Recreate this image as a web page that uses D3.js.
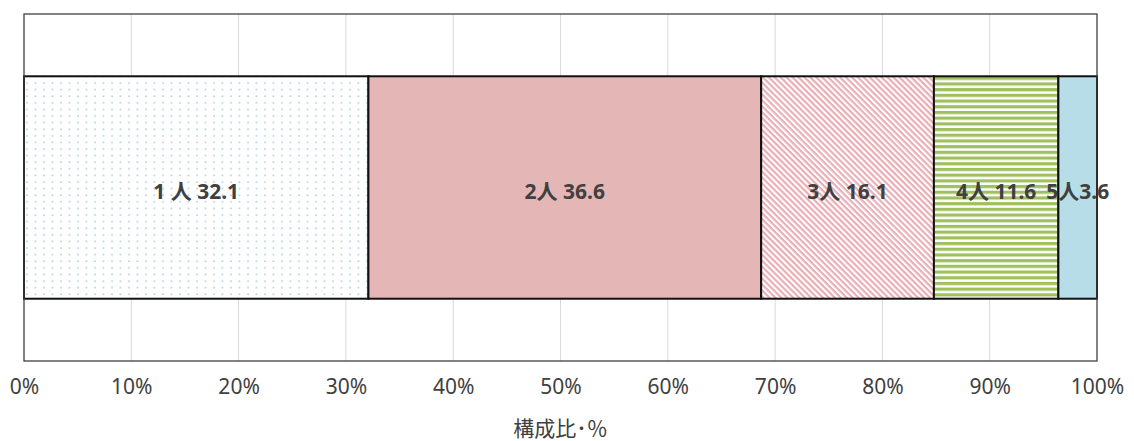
<!DOCTYPE html>
<html>
<head>
<meta charset="utf-8">
<script src="https://cdn.jsdelivr.net/npm/d3@7"></script>
<style>
  body { margin: 0; background: #fff; }
  text { font-family: "Noto Sans", "Noto Sans CJK JP", sans-serif; }
</style>
</head>
<body>
<div id="chart"></div>
<script>
// data
const categories = ["1 人", "2人", "3人", "4人", "5人"];
const values = [32.1, 36.6, 16.1, 11.6, 3.6];
const labelGaps = [" ", " ", " ", " ", ""];
const tickValues = [0, 10, 20, 30, 40, 50, 60, 70, 80, 90, 100];
const axisTitle = "構成比･％";

const W = 1134, H = 441;
const margin = {top: 14, right: 37, bottom: 80, left: 24};
const width = W - margin.left - margin.right;
const height = H - margin.top - margin.bottom;

const svg = d3.select("#chart").append("svg")
    .attr("width", W)
    .attr("height", H);

// patterns
const defs = svg.append("defs");
const dots = defs.append("pattern").attr("id", "p0")
    .attr("patternUnits", "userSpaceOnUse").attr("width", 8.5).attr("height", 6.6);
dots.append("rect").attr("width", 8.5).attr("height", 6.6).attr("fill", "#fff");
dots.append("circle").attr("cx", 3).attr("cy", 3).attr("r", 0.9).attr("fill", "#a8d0e0");

defs.append("pattern").attr("id", "p1")
    .attr("patternUnits", "userSpaceOnUse").attr("width", 4).attr("height", 4)
  .append("rect").attr("width", 4).attr("height", 4).attr("fill", "#e4b6b5");

const hatch = defs.append("pattern").attr("id", "p2")
    .attr("patternUnits", "userSpaceOnUse").attr("width", 4.2).attr("height", 4.2)
    .attr("patternTransform", "rotate(45)");
hatch.append("rect").attr("width", 4.2).attr("height", 4.2).attr("fill", "#fff");
hatch.append("rect").attr("width", 4.2).attr("height", 2.2).attr("fill", "#eaaeb6");

const stripes = defs.append("pattern").attr("id", "p3")
    .attr("patternUnits", "userSpaceOnUse").attr("width", 6).attr("height", 5.7);
stripes.append("rect").attr("width", 6).attr("height", 5.7).attr("fill", "#fff");
stripes.append("rect").attr("y", 0).attr("width", 6).attr("height", 3.2).attr("fill", "#9fc05e");

defs.append("pattern").attr("id", "p4")
    .attr("patternUnits", "userSpaceOnUse").attr("width", 4).attr("height", 4)
  .append("rect").attr("width", 4).attr("height", 4).attr("fill", "#b7dde8");

const g = svg.append("g")
    .attr("transform", "translate(" + margin.left + "," + margin.top + ")");

const x = d3.scaleLinear().domain([0, 100]).range([0, width]);
const y = d3.scaleBand().domain(["all"]).range([0, height]).paddingInner(0).paddingOuter(0.28);

// gridlines
g.append("g").selectAll("line")
    .data(tickValues.slice(1, -1))
    .enter().append("line")
    .attr("x1", d => x(d)).attr("x2", d => x(d))
    .attr("y1", 0).attr("y2", height)
    .attr("stroke", "#d9d9d9").attr("stroke-width", 1);

// stacked segments
let cum = 0;
const segs = values.map((v, i) => {
  const s = {cat: categories[i], v: v, x0: cum, x1: cum + v, i: i};
  cum += v;
  return s;
});
segs[segs.length - 1].x1 = 100;

g.selectAll("rect.seg")
    .data(segs)
    .enter().append("rect")
    .attr("class", "seg")
    .attr("x", d => x(d.x0))
    .attr("y", y("all"))
    .attr("width", d => x(d.x1) - x(d.x0))
    .attr("height", y.bandwidth())
    .attr("fill", d => "url(#p" + d.i + ")")
    .attr("stroke", "#111")
    .attr("stroke-width", 2);

g.selectAll("text.lbl")
    .data(segs)
    .enter().append("text")
    .attr("class", "lbl")
    .attr("x", d => (x(d.x0) + x(d.x1)) / 2)
    .attr("y", y("all") + y.bandwidth() / 2 + 4)
    .attr("dy", "0.35em")
    .attr("text-anchor", "middle")
    .style("font-size", "21px")
    .style("font-weight", "bold")
    .attr("fill", "#404040")
    .text(d => d.cat + labelGaps[d.i] + d.v.toFixed(1));

// plot border
g.append("rect")
    .attr("width", width).attr("height", height)
    .attr("fill", "none").attr("stroke", "#404040").attr("stroke-width", 1.3);

// x axis
const xAxis = g.append("g")
    .attr("transform", "translate(0," + height + ")")
    .call(d3.axisBottom(x).tickValues(tickValues).tickFormat(d => d + "%").tickSize(0).tickPadding(18));
xAxis.select(".domain").remove();
xAxis.selectAll("text")
    .style("font-size", "21px")
    .style("font-family", "\"Noto Sans\", sans-serif")
    .attr("fill", "#404040");

g.append("text")
    .attr("x", width / 2)
    .attr("y", height + 75)
    .attr("text-anchor", "middle")
    .style("font-size", "21px")
    .attr("fill", "#404040")
    .text(axisTitle);
</script>
</body>
</html>
